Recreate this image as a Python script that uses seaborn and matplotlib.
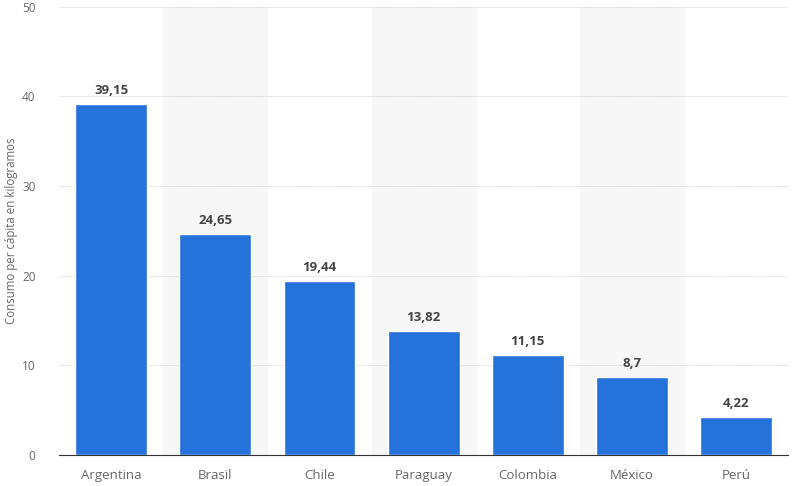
import numpy as np
import pandas as pd
import matplotlib
matplotlib.use('Agg')
import matplotlib.pyplot as plt
import seaborn as sns

countries = ['Argentina', 'Brasil', 'Chile', 'Paraguay', 'Colombia', 'México', 'Perú']
consumo = [39.15, 24.65, 19.44, 13.82, 11.15, 8.7, 4.22]
y_ticks = [0, 10, 20, 30, 40, 50]

BAR_COLOR = '#2672db'
TEXT_COLOR = '#666666'

sns.set_style('white')
plt.rcParams['font.family'] = ['Open Sans', 'DejaVu Sans']

df = pd.DataFrame({'pais': countries, 'consumo': consumo})

fig = plt.figure(figsize=(8, 4.86), dpi=100)
ax = fig.add_axes([0.074, 0.064, 0.911, 0.922])

# alternating light bands behind the categories
for i in range(1, len(countries), 2):
    ax.axvspan(i - 0.5, i + 0.5, color='#f7f7f7', zorder=0)

sns.barplot(data=df, x='pais', y='consumo', color=BAR_COLOR, width=0.69,
            saturation=1, ax=ax, zorder=2)

for i, v in enumerate(consumo):
    label = f'{v:g}'.replace('.', ',')
    ax.text(i, v + 0.8, label, ha='center', va='bottom', fontsize=9.5,
            fontweight='bold', color='#444444', zorder=3)

ax.set_xlim(-0.5, len(countries) - 0.5)
ax.set_ylim(0, 50)
ax.set_yticks(y_ticks)
ax.yaxis.grid(True, linestyle=(0, (1, 1)), linewidth=0.6, color='#cccccc', zorder=1)
ax.set_axisbelow(True)

ax.set_xlabel('')
ax.set_ylabel('Consumo per cápita en kilogramos', fontsize=8.3, color=TEXT_COLOR)
ax.yaxis.set_label_coords(-0.056, 0.5)
ax.tick_params(axis='x', length=0, labelsize=9.5, labelcolor=TEXT_COLOR, pad=10)
ax.tick_params(axis='y', length=0, labelsize=8.5, labelcolor=TEXT_COLOR, pad=17)

sns.despine(ax=ax, left=True)
ax.spines['bottom'].set_color('#333333')
ax.spines['bottom'].set_linewidth(0.8)

plt.savefig('out.png', dpi=100)
plt.close()
